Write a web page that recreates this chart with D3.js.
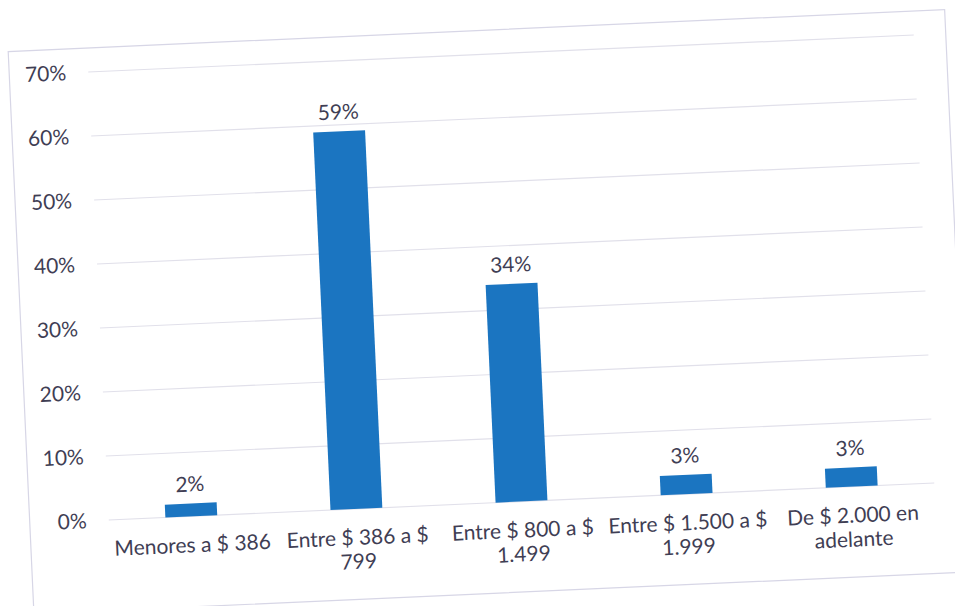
<!DOCTYPE html>
<html>
<head>
<meta charset="utf-8">
<script src="https://cdn.jsdelivr.net/npm/d3@7"></script>
<style>
  html, body { margin: 0; padding: 0; background: #ffffff; }
  svg { display: block; }
  text { font-family: Lato, "Open Sans", sans-serif; fill: #3f3e54; }
</style>
</head>
<body>
<svg id="chart" width="955" height="606"></svg>
<script>
// ---- data ----
const categories = ["Menores a $ 386", "Entre $ 386 a $ 799", "Entre $ 800 a $ 1.499", "Entre $ 1.500 a $ 1.999", "De $ 2.000 en adelante"];
const values = [0.02, 0.59, 0.34, 0.03, 0.03];
const tickValues = [0, 0.1, 0.2, 0.3, 0.4, 0.5, 0.6, 0.7];

// ---- layout ----
const W = 826, H = 448.5;
const svg = d3.select("#chart");
svg.append("rect").attr("width", 955).attr("height", 606).attr("fill", "#ffffff");

// the scanned chart is slightly tilted: map the plot with an affine transform
const g = svg.append("g")
  .attr("transform", `matrix(${825.5 / W},${-37 / W},${20.5 / H},${448 / H},88.25,72)`);

// chart border
g.append("rect")
  .attr("x", -79).attr("y", -24)
  .attr("width", 937).attr("height", 563)
  .attr("fill", "none")
  .attr("stroke", "#d7d6e6")
  .attr("stroke-width", 1.2);

const x = d3.scaleBand().domain(categories).range([0, W]).paddingInner(0.686).paddingOuter(0.343);
const y = d3.scaleLinear().domain([0, 0.7]).range([H, 0]);

// gridlines
g.append("g")
  .selectAll("line")
  .data(tickValues)
  .join("line")
  .attr("x1", 0).attr("x2", W)
  .attr("y1", d => y(d)).attr("y2", d => y(d))
  .attr("stroke", "#e1e0ea")
  .attr("stroke-width", 1.2);

// y axis labels
const yAxis = d3.axisLeft(y).tickValues(tickValues).tickFormat(d3.format(".0%")).tickSize(0).tickPadding(22);
const ya = g.append("g").call(yAxis);
ya.select(".domain").remove();
ya.selectAll("text").attr("font-size", 21).attr("fill", "#3f3e54").attr("font-family", "Lato, 'Open Sans', sans-serif");

// bars
g.append("g")
  .selectAll("rect")
  .data(values)
  .join("rect")
  .attr("x", (d, i) => x(categories[i]))
  .attr("y", d => y(d))
  .attr("width", x.bandwidth())
  .attr("height", d => H - y(d))
  .attr("fill", "#1b75c1");

// data labels
g.append("g")
  .selectAll("text")
  .data(values)
  .join("text")
  .attr("x", (d, i) => x(categories[i]) + x.bandwidth() / 2)
  .attr("y", d => y(d) - 12)
  .attr("text-anchor", "middle")
  .attr("font-size", 21)
  .text(d => d3.format(".0%")(d));

// category labels (wrapped)
const xAxis = d3.axisBottom(x).tickSize(0).tickPadding(0);
const xa = g.append("g").attr("transform", `translate(0,${H})`).call(xAxis);
xa.select(".domain").remove();
xa.selectAll("text")
  .attr("font-size", 21)
  .attr("fill", "#3f3e54")
  .attr("font-family", "Lato, 'Open Sans', sans-serif")
  .attr("dy", null)
  .each(function (d) {
    const t = d3.select(this);
    const words = d.split(" ");
    t.text(null);
    let line = [];
    let lineNo = 0;
    let ts = t.append("tspan").attr("x", 0).attr("y", 36);
    for (const w of words) {
      line.push(w);
      ts.text(line.join(" "));
      if (ts.node().getComputedTextLength() > 172 && line.length > 1) {
        line.pop();
        ts.text(line.join(" "));
        line = [w];
        lineNo++;
        ts = t.append("tspan").attr("x", 0).attr("y", 36 + lineNo * 24).text(w);
      }
    }
  });
</script>
</body>
</html>
